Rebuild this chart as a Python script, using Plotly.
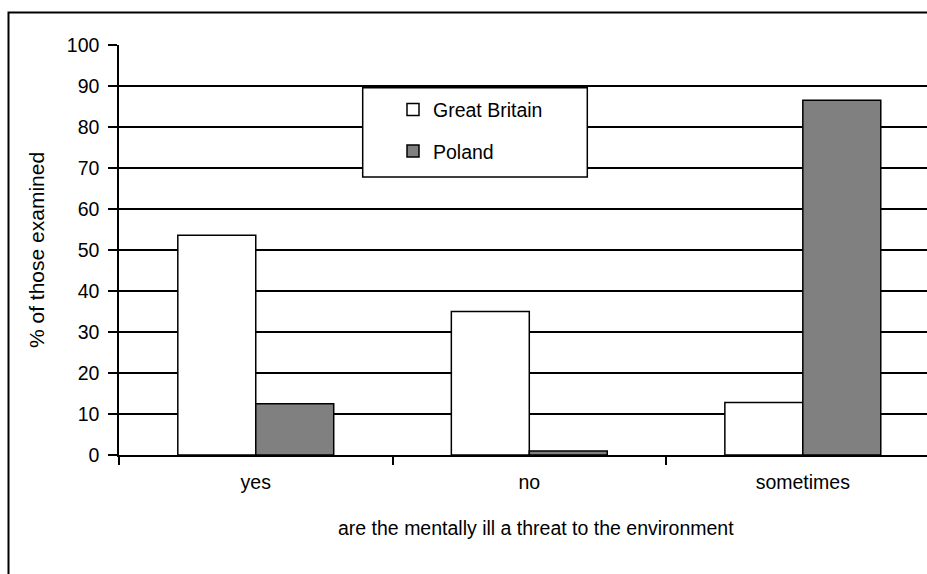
import plotly.graph_objects as go

categories = ["yes", "no", "sometimes"]
great_britain = [53.6, 35.0, 12.8]
poland = [12.5, 1.0, 86.5]
y_ticks = [0, 10, 20, 30, 40, 50, 60, 70, 80, 90, 100]

FONT = "Liberation Sans, Arial, sans-serif"
FS = 19.5

W, H = 927, 574
L, R, T, B = 119, 0, 44.5, 118.5
PW = W - L - R
PH = H - T - B

def px_x(x):
    return (x - L) / PW

def px_y(y):
    return (H - B - y) / PH

fig = go.Figure()
fig.add_trace(go.Bar(
    x=categories, y=great_britain, name="Great Britain",
    marker=dict(color="white", line=dict(color="black", width=1.5)),
    legendgroup="gb",
))
fig.add_trace(go.Bar(
    x=categories, y=poland, name="Poland",
    marker=dict(color="#808080", line=dict(color="black", width=1.5)),
    legendgroup="pl",
))

fig.update_layout(
    width=W, height=H,
    margin=dict(l=L, r=R, t=T, b=B, pad=0),
    paper_bgcolor="white", plot_bgcolor="white",
    font=dict(family=FONT, size=FS, color="black"),
    barmode="group", bargap=0.43, bargroupgap=0,
    showlegend=True,
    legend=dict(
        x=px_x(393), y=px_y(90), xanchor="left", yanchor="top",
        bgcolor="rgba(0,0,0,0)", borderwidth=0,
        traceorder="grouped", tracegroupgap=13,
        font=dict(family=FONT, size=FS, color="black"),
    ),
    xaxis=dict(
        type="category", range=[-0.5, 2.454],
        showgrid=False, showline=True, linecolor="black", linewidth=1.5,
        ticks="outside", tickson="boundaries", ticklen=8, tickwidth=1.5, tickcolor="black",
        tickfont=dict(family=FONT, size=FS),
        ticklabelstandoff=9,
    ),
    yaxis=dict(
        range=[0, 100], tickvals=y_ticks,
        showgrid=True, gridcolor="black", gridwidth=1.5,
        showline=True, linecolor="black", linewidth=1.5, zeroline=False,
        ticks="outside", ticklen=9, tickwidth=1.5, tickcolor="black",
        tickfont=dict(family=FONT, size=FS),
        ticklabelstandoff=5,
    ),
    shapes=[
        dict(type="rect", xref="paper", yref="paper",
             x0=px_x(362.7), x1=px_x(587.3), y0=px_y(176.7), y1=px_y(87.3),
             line=dict(color="black", width=1.5), fillcolor="white", layer="above"),
        dict(type="rect", xref="paper", yref="paper",
             x0=px_x(8.5), x1=px_x(940), y0=px_y(600), y1=px_y(12),
             line=dict(color="black", width=2), fillcolor="rgba(0,0,0,0)", layer="above"),
    ],
    annotations=[
        dict(text="% of those examined", xref="paper", yref="paper",
             x=px_x(36), y=px_y(250), textangle=-90, showarrow=False,
             xanchor="center", yanchor="middle",
             font=dict(family=FONT, size=21)),
        dict(text="are the mentally ill a threat to the environment", xref="paper", yref="paper",
             x=px_x(536), y=px_y(529), showarrow=False,
             xanchor="center", yanchor="middle",
             font=dict(family=FONT, size=FS)),
    ],
)

fig.write_html(
    "out.html",
    config={"displayModeBar": False},
    post_script="document.body.style.margin='0';document.documentElement.style.overflow='hidden';document.body.style.overflow='hidden';",
)
